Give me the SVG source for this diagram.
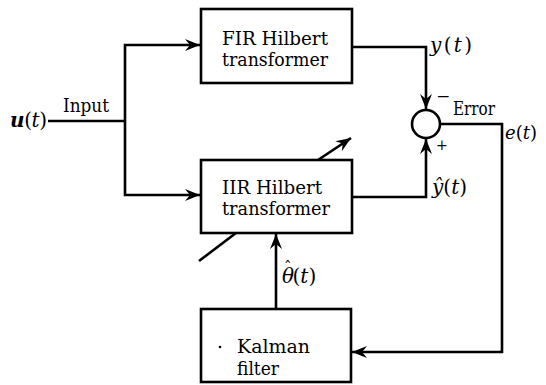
<svg xmlns="http://www.w3.org/2000/svg" width="546" height="385" viewBox="0 0 546 385">
<style>
.box{fill:#fff;stroke:#000;stroke-width:2.6}
.ln{fill:none;stroke:#000;stroke-width:2.6}
.t{font-family:"DejaVu Serif","Liberation Serif",serif;font-size:19px;fill:#000}
.s{font-family:"DejaVu Serif","Liberation Serif",serif;font-size:18px;fill:#000}
.m{font-family:"DejaVu Serif","Liberation Serif",serif;font-size:20px;fill:#000;font-style:italic}
.u{font-style:normal}
</style>
<defs>
<marker id="ah" viewBox="-15 -7 16 14" refX="0" refY="0" markerWidth="16" markerHeight="14" markerUnits="userSpaceOnUse" orient="auto">
<path d="M0,0 L-15,-6 L-10,0 L-15,6 Z" fill="#000"/>
</marker>
</defs>
<rect width="546" height="385" fill="#fff"/>
<g id="connectors">
<path class="ln" d="M48,121 H125"/>
<path class="ln" d="M125,121 V45 H200" marker-end="url(#ah)"/>
<path class="ln" d="M125,121 V195 H200" marker-end="url(#ah)"/>
<path class="ln" d="M352,47 H426 V109" marker-end="url(#ah)"/>
<path class="ln" d="M352,197 H426 V139" marker-end="url(#ah)"/>
<path class="ln" d="M440,124 H502 V352 H352" marker-end="url(#ah)"/>
<path class="ln" d="M276,309 V234" marker-end="url(#ah)"/>
<path class="ln" d="M199,261 L236,233" stroke-width="3.2"/>
<path class="ln" d="M318,160 L351,138" stroke-width="3.2" marker-end="url(#ah)"/>
</g>
<g id="fir">
<rect class="box" x="201" y="9" width="151" height="74"/>
<text class="t" x="222" y="45" textLength="106" lengthAdjust="spacingAndGlyphs">FIR Hilbert</text>
<text class="t" x="222" y="66" textLength="106" lengthAdjust="spacingAndGlyphs">transformer</text>
</g>
<g id="iir">
<rect class="box" x="201" y="160" width="151" height="73"/>
<text class="t" x="222" y="194" textLength="100" lengthAdjust="spacingAndGlyphs">IIR Hilbert</text>
<text class="t" x="222" y="215" textLength="108" lengthAdjust="spacingAndGlyphs">transformer</text>
</g>
<g id="kalman">
<rect class="box" x="201" y="309" width="150" height="73"/>
<circle cx="220" cy="347" r="1.3" fill="#000"/>
<text class="t" x="237" y="353" textLength="73" lengthAdjust="spacingAndGlyphs">Kalman</text>
<text class="t" x="237" y="375" textLength="42" lengthAdjust="spacingAndGlyphs">filter</text>
</g>
<g id="sum">
<circle cx="426" cy="124" r="14" fill="#fff" stroke="#000" stroke-width="2.6"/>
<text class="s" x="436" y="102" style="font-size:17px">−</text>
<text class="s" x="436" y="150" style="font-size:14px">+</text>
</g>
<g id="labels">
<text class="s" x="63" y="112" textLength="46" lengthAdjust="spacingAndGlyphs">Input</text>
<text class="s" x="453" y="115" textLength="42" lengthAdjust="spacingAndGlyphs">Error</text>
<text class="m" x="10" y="127" textLength="37" lengthAdjust="spacing"><tspan font-weight="bold">u</tspan><tspan class="u">(</tspan>t<tspan class="u">)</tspan></text>
<text class="m" x="430" y="52" textLength="42" lengthAdjust="spacing">y<tspan class="u">(</tspan>t<tspan class="u">)</tspan></text>
<text class="m" x="505" y="139" style="font-size:18px">e<tspan class="u">(</tspan>t<tspan class="u">)</tspan></text>
<text class="m" x="432" y="194" textLength="35" lengthAdjust="spacing">ŷ<tspan class="u">(</tspan>t<tspan class="u">)</tspan></text>
<text class="m" x="282" y="283">θ<tspan class="u" dx="-10" dy="-11" style="font-size:15px">ˆ</tspan><tspan class="u" dx="1" dy="11">(</tspan>t<tspan class="u">)</tspan></text>
</g>
</svg>
